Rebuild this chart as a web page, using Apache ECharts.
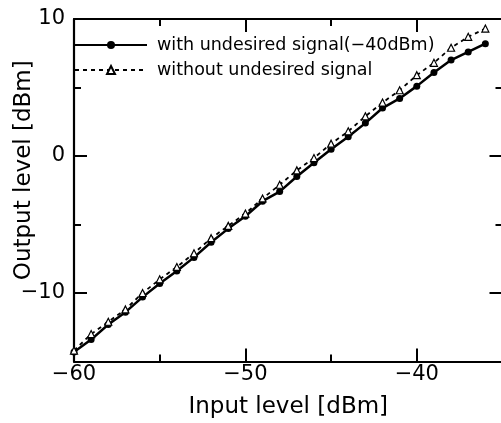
<!DOCTYPE html>
<html>
<head>
<meta charset="utf-8">
<script src="https://cdn.jsdelivr.net/npm/echarts@6/dist/echarts.min.js"></script>
<style>html,body{margin:0;padding:0;background:#fff}#c{width:501px;height:423px}</style>
</head>
<body>
<div id="c"></div>
<script>
const inputLevels = [-60,-59,-58,-57,-56,-55,-54,-53,-52,-51,-50,-49,-48,-47,-46,-45,-44,-43,-42,-41,-40,-39,-38,-37,-36];
const withUndesired = [-14.3,-13.4,-12.3,-11.4,-10.3,-9.3,-8.4,-7.4,-6.3,-5.3,-4.4,-3.3,-2.6,-1.5,-0.5,0.5,1.4,2.4,3.5,4.2,5.1,6.1,7.0,7.6,8.2];
const withoutUndesired = [-14.2,-13.0,-12.1,-11.2,-10.0,-9.0,-8.1,-7.1,-6.0,-5.1,-4.2,-3.1,-2.1,-1.05,-0.15,0.9,1.8,2.9,3.9,4.8,5.9,6.8,7.9,8.7,9.3];
const xMajorTicks = [-60,-50,-40];
const yMajorTicks = [-10,0,10];
const seriesNames = ['with undesired signal(\u221240dBm)','without undesired signal'];

const FONT = '"DejaVu Sans", sans-serif';
const fmt = v => String(v).replace('-', '\u2212');
const pair = (xs, ys) => xs.map((x,i)=>[x, ys[i]]);

const baseX = {type:'value', min:-60, max:-35, interval:5, splitLine:{show:false}};
const baseY = {type:'value', min:-15, max:10, interval:5, splitLine:{show:false}};
const line = {show:true, onZero:false, lineStyle:{color:'#000', width:2.2}};
const noLine = {show:false, onZero:false};
const tickShort = {inside:true, length:7, lineStyle:{color:'#000', width:2}};
const tickLong = vals => ({inside:true, length:13, customValues:vals, lineStyle:{color:'#000', width:2}});

const chart = echarts.init(document.getElementById('c'), null, {renderer:'canvas'});
chart.setOption({
  animation:false,
  backgroundColor:'#fff',
  grid:{left:74, top:19, right:-1.5, bottom:61.5, containLabel:false, outerBoundsMode:'none'},
  legend:{
    left:74, top:35, padding:0, orient:'vertical', itemWidth:72, itemHeight:10, itemGap:5,
    textStyle:{fontFamily:FONT, fontSize:17.5, color:'#000', lineHeight:20, padding:[0,0,0,5]},
    data:seriesNames
  },
  xAxis:[
    Object.assign({}, baseX, {position:'bottom', axisLine:line, axisTick:tickShort,
      axisLabel:{customValues:xMajorTicks, formatter:fmt, fontFamily:FONT, fontSize:21, color:'#000', margin:3},
      name:'Input level [dBm]', nameLocation:'middle', nameGap:34, nameMoveOverlap:false,
      nameTextStyle:{fontFamily:FONT, fontSize:23, color:'#000'}}),
    Object.assign({}, baseX, {position:'bottom', axisLine:noLine, axisTick:tickLong(xMajorTicks), axisLabel:{show:false}}),
    Object.assign({}, baseX, {position:'top', axisLine:line, axisTick:tickShort, axisLabel:{show:false}}),
    Object.assign({}, baseX, {position:'top', axisLine:noLine, axisTick:tickLong(xMajorTicks), axisLabel:{show:false}})
  ],
  yAxis:[
    Object.assign({}, baseY, {position:'left', axisLine:line, axisTick:tickShort,
      axisLabel:{customValues:yMajorTicks, formatter:fmt, fontFamily:FONT, fontSize:21, color:'#000', margin:9},
      name:'Output level [dBm]', nameLocation:'middle', nameGap:38, nameMoveOverlap:false,
      nameTextStyle:{fontFamily:FONT, fontSize:23, color:'#000', padding:[0,0,0,40]}}),
    Object.assign({}, baseY, {position:'left', axisLine:noLine, axisTick:tickLong(yMajorTicks), axisLabel:{show:false}}),
    Object.assign({}, baseY, {position:'right', axisLine:line, axisTick:tickShort, axisLabel:{show:false}}),
    Object.assign({}, baseY, {position:'right', axisLine:noLine, axisTick:tickLong(yMajorTicks), axisLabel:{show:false}})
  ],
  series:[
    {name:seriesNames[0], type:'line', xAxisIndex:0, yAxisIndex:0,
     data:pair(inputLevels, withUndesired),
     symbol:'circle', symbolSize:7,
     lineStyle:{color:'#000', width:2.5},
     itemStyle:{color:'#000', borderColor:'#000', borderWidth:0}},
    {name:seriesNames[1], type:'line', xAxisIndex:0, yAxisIndex:0,
     data:pair(inputLevels, withoutUndesired),
     symbol:'triangle', symbolSize:7,
     lineStyle:{color:'#000', width:1.8, type:[4,4]},
     itemStyle:{color:'#fff', borderColor:'#000', borderWidth:1.2}}
  ]
});
</script>
</body>
</html>
